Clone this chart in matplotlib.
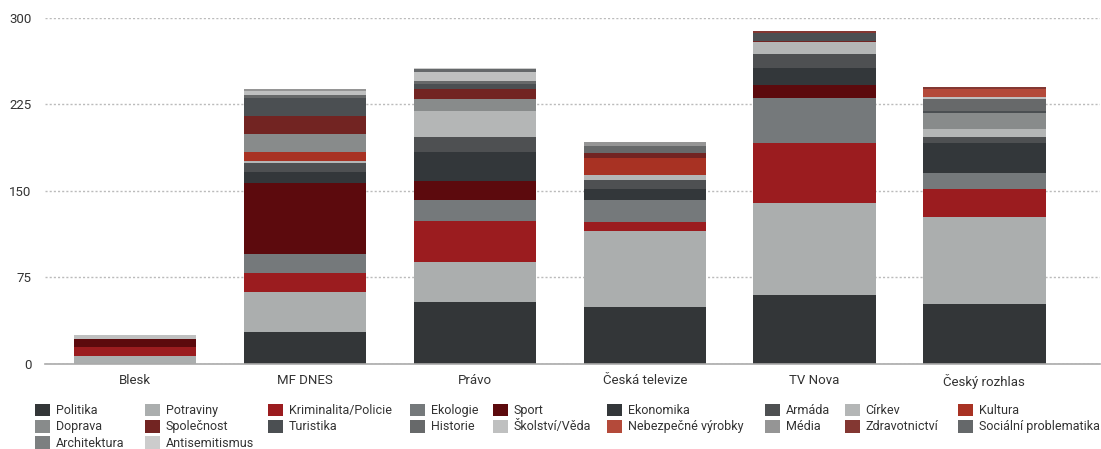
import matplotlib.pyplot as plt
import numpy as np

plt.rcParams['font.family'] = ['Roboto', 'DejaVu Sans']

stations = ["Blesk", "MF DNES", "Právo", "Česká televize", "TV Nova", "Český rozhlas"]

topics = ["Politika", "Potraviny", "Kriminalita/Policie", "Ekologie", "Sport",
          "Ekonomika", "Armáda", "Církev", "Kultura", "Doprava", "Společnost",
          "Turistika", "Historie", "Školství/Věda", "Nebezpečné výrobky", "Média",
          "Zdravotnictví", "Sociální problematika", "Architektura", "Antisemitismus"]

colors = ["#333638", "#abaeae", "#9b1c1f", "#75797b", "#5c0a0d",
          "#33373a", "#4e5052", "#b4b6b6", "#a83223", "#888b8b", "#722422",
          "#4b4f52", "#67696a", "#bfc0c0", "#b44a3a", "#959595",
          "#833732", "#65686a", "#7c7f80", "#cccccc"]

politika = [0, 28, 54, 49, 60, 52]
potraviny = [7, 34, 34, 66, 80, 75.5]
kriminalita = [8, 17, 36, 8, 52, 24]
ekologie = [0, 16.5, 18, 19, 39, 14.5]
sport = [7, 61, 16.5, 0, 11, 0]
ekonomika = [0, 10, 25, 9.5, 14.5, 26]
armada = [0, 8, 13, 8, 12, 5]
cirkev = [0, 1.5, 22.5, 4.5, 10.5, 7]
kultura = [0, 8, 0, 14.5, 0, 0]
doprava = [0, 15.5, 11, 0, 0, 14]
spolecnost = [0, 15.5, 8, 4.5, 1, 0]
turistika = [0, 15.5, 4.5, 0, 7, 1.5]
historie = [0, 2.5, 2.5, 6, 0, 10.5]
skolstvi = [3, 3.5, 8, 0, 0, 1.5]
nebezpecne = [0, 0, 0, 0, 0, 7]
media = [0, 1.5, 0, 3.5, 0, 0]
zdravotnictvi = [0, 0, 0, 0, 1.5, 1.5]
socialni = [0, 0, 2.5, 0, 0, 0]
architektura = [0, 0, 0, 0, 0, 0]
antisemitismus = [0, 0, 1.5, 0, 0, 0]

series = [politika, potraviny, kriminalita, ekologie, sport, ekonomika, armada,
          cirkev, kultura, doprava, spolecnost, turistika, historie, skolstvi,
          nebezpecne, media, zdravotnictvi, socialni, architektura, antisemitismus]

fig = plt.figure(figsize=(11.01, 4.49), dpi=100)
ax = fig.add_axes([0.041, 0.1893, 0.958, 0.7707])

x = np.arange(len(stations))
bottom = np.zeros(len(stations))
handles = []
for name, vals, c in zip(topics, series, colors):
    b = ax.bar(x, vals, 0.72, bottom=bottom, color=c, linewidth=0, label=name, zorder=3)
    handles.append(b)
    bottom += np.array(vals)

ax.set_xlim(-0.53, 5.68)
ax.set_ylim(0, 300)
ax.set_yticks([0, 75, 150, 225, 300])
ax.yaxis.grid(True, linestyle=(0, (1.5, 1.5)), color="#bbbbbb", linewidth=1, zorder=0)
ax.set_xticks(x)
ax.set_xticklabels(stations)
ax.tick_params(axis='both', length=0, labelsize=9.5, colors="#333333")
ax.tick_params(axis='x', pad=7)
ax.tick_params(axis='y', pad=10)
for s in ["top", "right", "left"]:
    ax.spines[s].set_visible(False)
ax.spines["bottom"].set_color("#aaaaaa")
ax.spines["bottom"].set_linewidth(1.2)
ax.spines["bottom"].set_zorder(4)

# legend: one small legend per column so the columns sit where the original has them
ncol = 9
col_x = [35, 145, 268, 410, 493, 607, 765, 845, 958]
for c in range(ncol):
    idx = list(range(c, len(topics), ncol))
    leg = fig.legend([handles[i] for i in idx], [topics[i] for i in idx],
                     loc="upper left", bbox_to_anchor=(col_x[c] / 1101, 0.101),
                     frameon=False, fontsize=9.0, handlelength=1.2, handleheight=1.2,
                     handletextpad=0.45, labelspacing=0.2,
                     borderaxespad=0, borderpad=0)
    for t in leg.get_texts():
        t.set_color("#333333")

fig.savefig("out.png", dpi=100)
